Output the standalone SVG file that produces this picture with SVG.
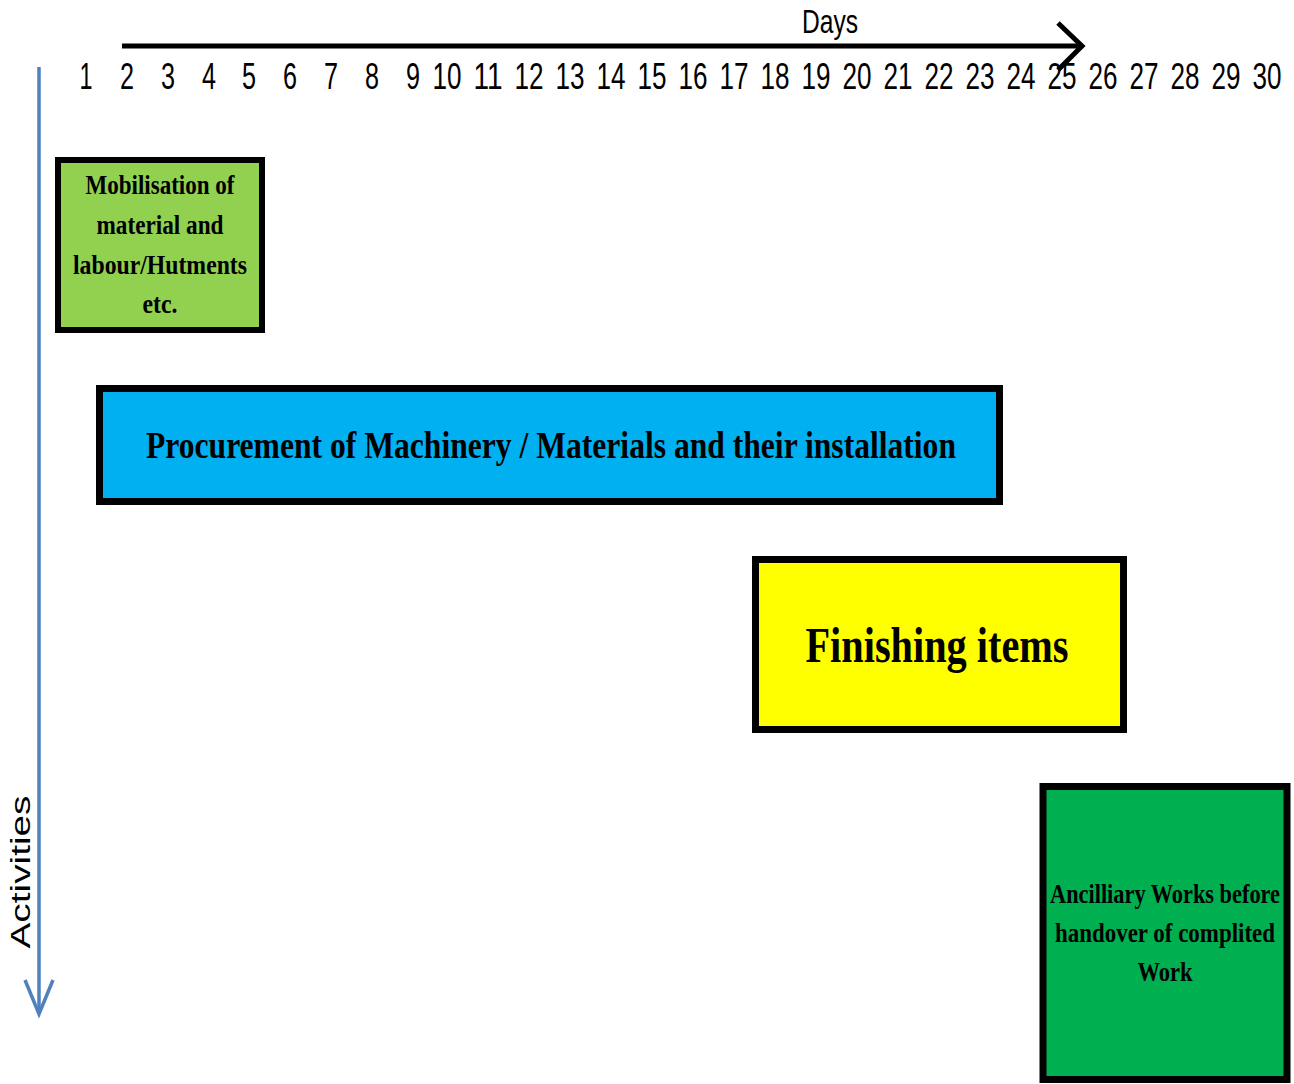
<svg xmlns="http://www.w3.org/2000/svg" width="1294" height="1084" viewBox="0 0 1294 1084">
<style>
.num{font-family:"Liberation Sans",Arial,sans-serif;font-size:36px;fill:#000;text-anchor:middle}
.lbl{font-family:"Liberation Serif","Times New Roman",serif;font-weight:bold;fill:#000;text-anchor:middle}
.box{stroke:#000}
</style>
<rect width="1294" height="1084" fill="#fff"/>
<g id="axes">
<line x1="122" y1="46" x2="1081" y2="46" stroke="#000" stroke-width="5"/>
<polyline points="1058,23 1082,46 1058,70" fill="none" stroke="#000" stroke-width="5"/>
<text x="830" y="33" font-family="Liberation Sans,Arial,sans-serif" font-size="33" text-anchor="middle" textLength="56" lengthAdjust="spacingAndGlyphs">Days</text>
<line x1="39" y1="67" x2="39" y2="1012" stroke="#4F81BD" stroke-width="3.5"/>
<polyline points="25,980 39,1014 53,980" fill="none" stroke="#4F81BD" stroke-width="3.5"/>
<text transform="translate(30,872) rotate(-90)" font-family="Liberation Sans,Arial,sans-serif" font-size="27" text-anchor="middle" textLength="153" lengthAdjust="spacingAndGlyphs">Activities</text>
</g>
<g id="day-numbers">
<text class="num" x="86" y="89" textLength="13" lengthAdjust="spacingAndGlyphs">1</text>
<text class="num" x="127" y="89" textLength="14" lengthAdjust="spacingAndGlyphs">2</text>
<text class="num" x="168" y="89" textLength="14" lengthAdjust="spacingAndGlyphs">3</text>
<text class="num" x="209" y="89" textLength="14" lengthAdjust="spacingAndGlyphs">4</text>
<text class="num" x="249" y="89" textLength="14" lengthAdjust="spacingAndGlyphs">5</text>
<text class="num" x="290" y="89" textLength="14" lengthAdjust="spacingAndGlyphs">6</text>
<text class="num" x="331" y="89" textLength="14" lengthAdjust="spacingAndGlyphs">7</text>
<text class="num" x="372" y="89" textLength="14" lengthAdjust="spacingAndGlyphs">8</text>
<text class="num" x="413" y="89" textLength="14" lengthAdjust="spacingAndGlyphs">9</text>
<text class="num" x="447" y="89" textLength="29" lengthAdjust="spacingAndGlyphs">10</text>
<text class="num" x="488" y="89" textLength="29" lengthAdjust="spacingAndGlyphs">11</text>
<text class="num" x="529" y="89" textLength="29" lengthAdjust="spacingAndGlyphs">12</text>
<text class="num" x="570" y="89" textLength="29" lengthAdjust="spacingAndGlyphs">13</text>
<text class="num" x="611" y="89" textLength="29" lengthAdjust="spacingAndGlyphs">14</text>
<text class="num" x="652" y="89" textLength="29" lengthAdjust="spacingAndGlyphs">15</text>
<text class="num" x="693" y="89" textLength="29" lengthAdjust="spacingAndGlyphs">16</text>
<text class="num" x="734" y="89" textLength="29" lengthAdjust="spacingAndGlyphs">17</text>
<text class="num" x="775" y="89" textLength="29" lengthAdjust="spacingAndGlyphs">18</text>
<text class="num" x="816" y="89" textLength="29" lengthAdjust="spacingAndGlyphs">19</text>
<text class="num" x="857" y="89" textLength="29" lengthAdjust="spacingAndGlyphs">20</text>
<text class="num" x="898" y="89" textLength="29" lengthAdjust="spacingAndGlyphs">21</text>
<text class="num" x="939" y="89" textLength="29" lengthAdjust="spacingAndGlyphs">22</text>
<text class="num" x="980" y="89" textLength="29" lengthAdjust="spacingAndGlyphs">23</text>
<text class="num" x="1021" y="89" textLength="29" lengthAdjust="spacingAndGlyphs">24</text>
<text class="num" x="1062" y="89" textLength="29" lengthAdjust="spacingAndGlyphs">25</text>
<text class="num" x="1103" y="89" textLength="29" lengthAdjust="spacingAndGlyphs">26</text>
<text class="num" x="1144" y="89" textLength="29" lengthAdjust="spacingAndGlyphs">27</text>
<text class="num" x="1185" y="89" textLength="29" lengthAdjust="spacingAndGlyphs">28</text>
<text class="num" x="1226" y="89" textLength="29" lengthAdjust="spacingAndGlyphs">29</text>
<text class="num" x="1267" y="89" textLength="29" lengthAdjust="spacingAndGlyphs">30</text>
</g>
<g id="node-mobilisation">
<rect class="box" x="58" y="160" width="204" height="170" fill="#92D050" stroke-width="6"/>
<text class="lbl" x="160" y="194" font-size="27" textLength="149" lengthAdjust="spacingAndGlyphs">Mobilisation of</text>
<text class="lbl" x="160" y="234" font-size="27" textLength="127" lengthAdjust="spacingAndGlyphs">material and</text>
<text class="lbl" x="160" y="274" font-size="27" textLength="174" lengthAdjust="spacingAndGlyphs">labour/Hutments</text>
<text class="lbl" x="160" y="313" font-size="27" textLength="35" lengthAdjust="spacingAndGlyphs">etc.</text>
</g>
<g id="node-procurement">
<rect class="box" x="99.5" y="388.5" width="900" height="113" fill="#00B0F0" stroke-width="7"/>
<text class="lbl" x="551" y="458" font-size="38" textLength="810" lengthAdjust="spacingAndGlyphs">Procurement of Machinery / Materials and their installation</text>
</g>
<g id="node-finishing">
<rect class="box" x="755.5" y="559.5" width="368" height="170" fill="#FFFF00" stroke-width="7"/>
<text class="lbl" x="937" y="662" font-size="50" textLength="263" lengthAdjust="spacingAndGlyphs">Finishing items</text>
</g>
<g id="node-ancillary">
<rect class="box" x="1043" y="786.5" width="244" height="293" fill="#00B050" stroke-width="7"/>
<text class="lbl" x="1165" y="903" font-size="28" textLength="230" lengthAdjust="spacingAndGlyphs">Ancilliary Works before</text>
<text class="lbl" x="1165" y="942" font-size="28" textLength="220" lengthAdjust="spacingAndGlyphs">handover of complited</text>
<text class="lbl" x="1165" y="981" font-size="28" textLength="55" lengthAdjust="spacingAndGlyphs">Work</text>
</g>
</svg>
